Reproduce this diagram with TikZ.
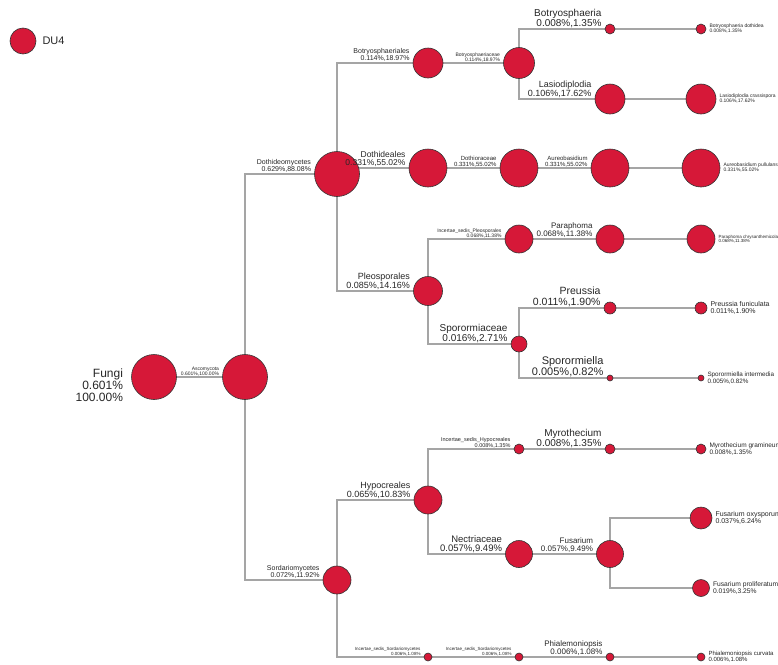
\documentclass[tikz,border=0pt]{standalone}
\usepackage{fontspec}
\setmainfont{Liberation Sans}
\usepackage{xcolor}
\usepackage{tikz}
\usetikzlibrary{positioning}
\usetikzlibrary{backgrounds}
\definecolor{du4red}{RGB}{214,24,56}
\definecolor{branchgray}{RGB}{165,165,165}
\tikzset{
    taxon/.style = {circle, draw=black!80, line width=0.6pt, fill=du4red, inner sep=0pt, minimum size=#1},
    branch/.style = {draw=branchgray, line width=1.2pt},
    tagl/.style = {align=right, inner sep=0pt, text=black!85, font=\fontsize{#1}{#1}\selectfont},
    tagr/.style = {align=left, inner sep=0pt, text=black!85, font=\fontsize{#1}{#1}\selectfont},
}
\begin{document}
\begin{tikzpicture}[x=1pt, y=-1pt]
\useasboundingbox (0,0) rectangle (778,664);
% legend
\node[taxon=26] (legend) at (23,41) {};
\node[tagr=11, right=6pt of legend] (legendtext) {DU4};
%
\node[taxon=45] (fungi) at (154,377) {};
\node[taxon=45] (ascomycota) at (245,377) {};
\node[taxon=45] (dothideomycetes) at (337,174) {};
\node[taxon=28] (sordariomycetes) at (337,580) {};
%
\node[taxon=30] (botryosphaeriales) at (428,63) {};
\node[taxon=38] (dothideales) at (428,168) {};
\node[taxon=29] (pleosporales) at (428,291) {};
\node[taxon=28] (hypocreales) at (428,500) {};
\node[taxon=8] (incsedsordo) at (428,657) {};
%
\node[taxon=31] (botryosphaeriaceae) at (519,63) {};
\node[taxon=38] (dothioraceae) at (519,168) {};
\node[taxon=28] (incsedpleo) at (519,239) {};
\node[taxon=16] (sporormiaceae) at (519,344) {};
\node[taxon=10] (incsedhypo) at (519,449) {};
\node[taxon=27] (nectriaceae) at (519,554) {};
\node[taxon=8] (incsedsordf) at (519,657) {};
%
\node[taxon=10] (botryosphaeria) at (610,29) {};
\node[taxon=30] (lasiodiplodia) at (610,99) {};
\node[taxon=38] (aureobasidium) at (610,168) {};
\node[taxon=28] (paraphoma) at (610,239) {};
\node[taxon=12] (preussia) at (610,308) {};
\node[taxon=6] (sporormiella) at (610,378) {};
\node[taxon=10] (myrothecium) at (610,449) {};
\node[taxon=27] (fusarium) at (610,554) {};
\node[taxon=8] (phialemoniopsis) at (610,657) {};
%
\node[taxon=10] (bdothidea) at (701,29) {};
\node[taxon=30] (lcrassispora) at (701,99) {};
\node[taxon=38] (apullulans) at (701,168) {};
\node[taxon=28] (pchrysanth) at (701,239) {};
\node[taxon=12] (pfuniculata) at (701,308) {};
\node[taxon=6] (sintermedia) at (701,378) {};
\node[taxon=10] (mgramineum) at (701,449) {};
\node[taxon=22] (foxysporum) at (701,518) {};
\node[taxon=17] (fproliferatum) at (701,588) {};
\node[taxon=8] (pcurvata) at (701,657) {};
% labels
\node[tagl=12, left=8pt of fungi.west, yshift=-8pt] (fungitag) {Fungi\\0.601\%\\100.00\%};
\node[tagl=5, above left=1pt and 3pt of ascomycota.west] (ascomycotatag) {Ascomycota\\0.601\%,100.00\%};
\node[tagl=7, above left=1pt and 3pt of dothideomycetes.west] (dothideomycetestag) {Dothideomycetes\\0.629\%,88.08\%};
\node[tagl=7, above left=1pt and 3pt of sordariomycetes.west] (sordariomycetestag) {Sordariomycetes\\0.072\%,11.92\%};
\node[tagl=7, above left=1pt and 3pt of botryosphaeriales.west] (botryosphaerialestag) {Botryosphaeriales\\0.114\%,18.97\%};
\node[tagl=8.5, above left=1pt and 3pt of dothideales.west] (dothidealestag) {Dothideales\\0.331\%,55.02\%};
\node[tagl=9, above left=1pt and 3pt of pleosporales.west] (pleosporalestag) {Pleosporales\\0.085\%,14.16\%};
\node[tagl=9, above left=1pt and 3pt of hypocreales.west] (hypocrealestag) {Hypocreales\\0.065\%,10.83\%};
\node[tagl=4.5, above left=1pt and 3pt of incsedsordo.west] (incsedsordotag) {Incertae\_sedis\_Sordariomycetes\\0.006\%,1.08\%};
\node[tagl=5, above left=1pt and 3pt of botryosphaeriaceae.west] (botryosphaeriaceaetag) {Botryosphaeriaceae\\0.114\%,18.97\%};
\node[tagl=6, above left=1pt and 3pt of dothioraceae.west] (dothioraceaetag) {Dothioraceae\\0.331\%,55.02\%};
\node[tagl=5, above left=1pt and 3pt of incsedpleo.west] (incsedpleotag) {Incertae\_sedis\_Pleosporales\\0.068\%,11.38\%};
\node[tagl=10, above left=1pt and 3pt of sporormiaceae.west] (sporormiaceaetag) {Sporormiaceae\\0.016\%,2.71\%};
\node[tagl=5.5, above left=1pt and 3pt of incsedhypo.west] (incsedhypotag) {Incertae\_sedis\_Hypocreales\\0.008\%,1.35\%};
\node[tagl=9.5, above left=1pt and 3pt of nectriaceae.west] (nectriaceaetag) {Nectriaceae\\0.057\%,9.49\%};
\node[tagl=4.5, above left=1pt and 3pt of incsedsordf.west] (incsedsordftag) {Incertae\_sedis\_Sordariomycetes\\0.006\%,1.08\%};
\node[tagl=10, above left=1pt and 3pt of botryosphaeria.west] (botryosphaeriatag) {Botryosphaeria\\0.008\%,1.35\%};
\node[tagl=9, above left=1pt and 3pt of lasiodiplodia.west] (lasiodiplodiatag) {Lasiodiplodia\\0.106\%,17.62\%};
\node[tagl=6, above left=1pt and 3pt of aureobasidium.west] (aureobasidiumtag) {Aureobasidium\\0.331\%,55.02\%};
\node[tagl=8, above left=1pt and 3pt of paraphoma.west] (paraphomatag) {Paraphoma\\0.068\%,11.38\%};
\node[tagl=10.5, above left=1pt and 3pt of preussia.west] (preussiatag) {Preussia\\0.011\%,1.90\%};
\node[tagl=11, above left=1pt and 3pt of sporormiella.west] (sporormiellatag) {Sporormiella\\0.005\%,0.82\%};
\node[tagl=10, above left=1pt and 3pt of myrothecium.west] (myrotheciumtag) {Myrothecium\\0.008\%,1.35\%};
\node[tagl=8, above left=1pt and 3pt of fusarium.west] (fusariumtag) {Fusarium\\0.057\%,9.49\%};
\node[tagl=8, above left=1pt and 3pt of phialemoniopsis.west] (phialemoniopsistag) {Phialemoniopsis\\0.006\%,1.08\%};
%
\node[tagr=5, right=3pt of bdothidea.east] (bdothideatag) {Botryosphaeria dothidea\\0.008\%,1.35\%};
\node[tagr=5, right=3pt of lcrassispora.east] (lcrassisporatag) {Lasiodiplodia crassispora\\0.106\%,17.62\%};
\node[tagr=5, right=3pt of apullulans.east] (apullulanstag) {Aureobasidium pullulans\\0.331\%,55.02\%};
\node[tagr=4.5, right=3pt of pchrysanth.east] (pchrysanthtag) {Paraphoma chrysanthemicola\\0.068\%,11.38\%};
\node[tagr=7, right=3pt of pfuniculata.east] (pfuniculatatag) {Preussia funiculata\\0.011\%,1.90\%};
\node[tagr=6.3, right=3pt of sintermedia.east] (sintermediatag) {Sporormiella intermedia\\0.005\%,0.82\%};
\node[tagr=6.5, right=3pt of mgramineum.east] (mgramineumtag) {Myrothecium gramineum\\0.008\%,1.35\%};
\node[tagr=7, right=3pt of foxysporum.east] (foxysporumtag) {Fusarium oxysporum\\0.037\%,6.24\%};
\node[tagr=6.7, right=3pt of fproliferatum.east] (fproliferatumtag) {Fusarium proliferatum\\0.019\%,3.25\%};
\node[tagr=6, right=3pt of pcurvata.east] (pcurvatatag) {Phialemoniopsis curvata\\0.006\%,1.08\%};
% branches
\begin{scope}[on background layer]
\draw[branch] (fungi.center) -- (ascomycota.center);
\draw[branch] (ascomycota.center) |- (dothideomycetes.center);
\draw[branch] (ascomycota.center) |- (sordariomycetes.center);
%
\draw[branch] (dothideomycetes.center) |- (botryosphaeriales.center);
\draw[branch] (dothideomycetes.center) |- (dothideales.center);
\draw[branch] (dothideomycetes.center) |- (pleosporales.center);
\draw[branch] (botryosphaeriales.center) -- (botryosphaeriaceae.center);
\draw[branch] (botryosphaeriaceae.center) |- (botryosphaeria.center);
\draw[branch] (botryosphaeriaceae.center) |- (lasiodiplodia.center);
\draw[branch] (botryosphaeria.center) -- (bdothidea.center);
\draw[branch] (lasiodiplodia.center) -- (lcrassispora.center);
\draw[branch] (dothideales.center) -- (dothioraceae.center) -- (aureobasidium.center) -- (apullulans.center);
\draw[branch] (pleosporales.center) |- (incsedpleo.center);
\draw[branch] (pleosporales.center) |- (sporormiaceae.center);
\draw[branch] (incsedpleo.center) -- (paraphoma.center) -- (pchrysanth.center);
\draw[branch] (sporormiaceae.center) |- (preussia.center);
\draw[branch] (sporormiaceae.center) |- (sporormiella.center);
\draw[branch] (preussia.center) -- (pfuniculata.center);
\draw[branch] (sporormiella.center) -- (sintermedia.center);
%
\draw[branch] (sordariomycetes.center) |- (hypocreales.center);
\draw[branch] (sordariomycetes.center) |- (incsedsordo.center);
\draw[branch] (hypocreales.center) |- (incsedhypo.center);
\draw[branch] (hypocreales.center) |- (nectriaceae.center);
\draw[branch] (incsedhypo.center) -- (myrothecium.center) -- (mgramineum.center);
\draw[branch] (nectriaceae.center) -- (fusarium.center);
\draw[branch] (fusarium.center) |- (foxysporum.center);
\draw[branch] (fusarium.center) |- (fproliferatum.center);
\draw[branch] (incsedsordo.center) -- (incsedsordf.center) -- (phialemoniopsis.center) -- (pcurvata.center);
\end{scope}
\end{tikzpicture}
\end{document}
